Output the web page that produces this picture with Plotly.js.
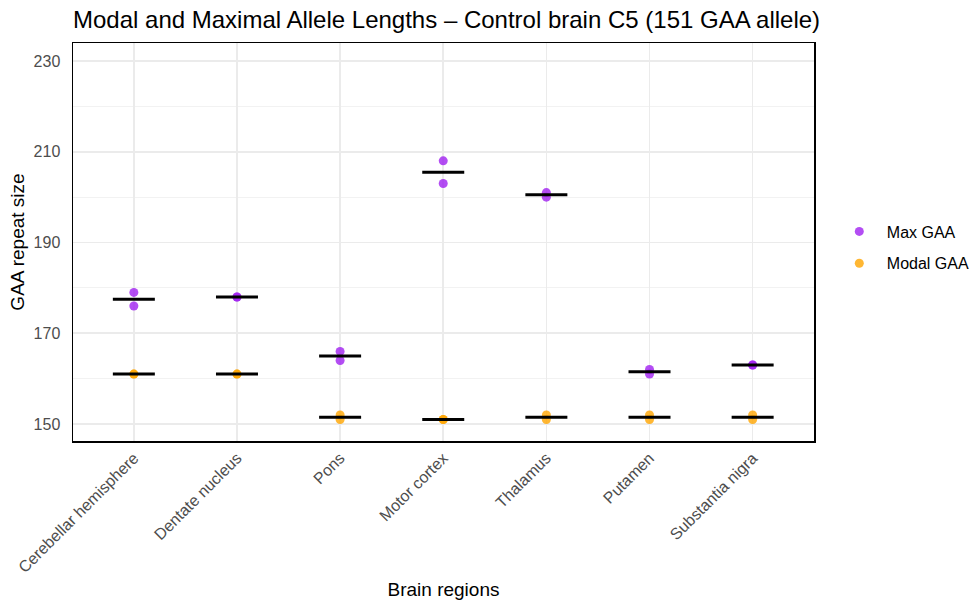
<!DOCTYPE html>
<html>
<head>
<meta charset="utf-8">
<script src="https://cdn.plot.ly/plotly-3.0.1.min.js"></script>
<style>html,body{margin:0;padding:0;background:#fff;}#chart{width:974px;height:603px;}</style>
</head>
<body>
<div id="chart"></div>
<script>
// Brain regions (x categories)
const regions = ["Cerebellar hemisphere", "Dentate nucleus", "Pons", "Motor cortex", "Thalamus", "Putamen", "Substantia nigra"];
// Max GAA repeat size, two replicate measurements per region
const maxRep1 = [179, 178, 166, 208, 201, 162, 163];
const maxRep2 = [176, 178, 164, 203, 200, 161, 163];
// Modal GAA repeat size, two replicate measurements per region
const modalRep1 = [161, 161, 152, 151, 152, 152, 152];
const modalRep2 = [161, 161, 151, 151, 151, 151, 151];
// Axis ticks
const yTicks = [150, 170, 190, 210, 230];

const purple = "rgba(160,32,240,0.8)";
const orange = "rgba(255,165,0,0.8)";
const font = "Liberation Sans, Arial, Helvetica, sans-serif";

const meanOf = (a, b) => a.map((v, i) => (v + b[i]) / 2);

const traces = [
  {
    type: "scatter", mode: "markers", name: "Max GAA", legendgroup: "max",
    x: regions.concat(regions), y: maxRep1.concat(maxRep2),
    marker: {color: purple, size: 9}
  },
  {
    type: "scatter", mode: "markers", name: "Modal GAA", legendgroup: "modal",
    x: regions.concat(regions), y: modalRep1.concat(modalRep2),
    marker: {color: orange, size: 9}
  },
  {
    type: "scatter", mode: "markers", showlegend: false, hoverinfo: "skip",
    x: regions, y: meanOf(maxRep1, maxRep2),
    marker: {symbol: "line-ew", size: 30, color: "black", line: {color: "black", width: 3}}
  },
  {
    type: "scatter", mode: "markers", showlegend: false, hoverinfo: "skip",
    x: regions, y: meanOf(modalRep1, modalRep2),
    marker: {symbol: "line-ew", size: 30, color: "black", line: {color: "black", width: 3}}
  }
];

const layout = {
  width: 974, height: 603,
  margin: {l: 73, r: 160, t: 43, b: 162, pad: 0},
  paper_bgcolor: "#ffffff", plot_bgcolor: "#ffffff",
  font: {family: font, color: "#000000"},
  title: {
    text: "Modal and Maximal Allele Lengths – Control brain C5 (151 GAA allele)",
    font: {size: 24, color: "#000000", family: font},
    xref: "paper", x: 0, xanchor: "left",
    yref: "container", y: 1 - 20 / 603, yanchor: "middle"
  },
  xaxis: {
    type: "category", categoryorder: "array", categoryarray: regions,
    range: [-0.59, 6.595],
    showgrid: true, gridcolor: "#EBEBEB", gridwidth: 1.6,
    showline: true, mirror: true, linecolor: "#000000", linewidth: 1.5,
    ticks: "", tickangle: -45,
    tickfont: {size: 16, color: "#4D4D4D", family: font},
    title: {text: "Brain regions", font: {size: 19, color: "#000000", family: font}, standoff: 8},
    zeroline: false, automargin: false
  },
  yaxis: {
    range: [146.25, 233.97],
    tickvals: yTicks, ticktext: yTicks.map(String),
    showgrid: true, gridcolor: "#EBEBEB", gridwidth: 1.6,
    minor: {dtick: 10, tick0: 150, showgrid: true, gridcolor: "#F2F2F2", gridwidth: 1},
    showline: true, mirror: true, linecolor: "#000000", linewidth: 1.5,
    ticks: "", ticklabelstandoff: 8,
    tickfont: {size: 16, color: "#4D4D4D", family: font},
    title: {text: "GAA repeat size", font: {size: 19, color: "#000000", family: font}, standoff: 4},
    zeroline: false, automargin: false
  },
  legend: {
    xref: "container", yref: "container",
    x: 831.8 / 974, xanchor: "left", y: 1 - 247.5 / 603, yanchor: "middle",
    font: {size: 16, color: "#000000", family: font},
    bgcolor: "rgba(0,0,0,0)", borderwidth: 0,
    itemwidth: 45,
    tracegroupgap: 8
  },
  showlegend: true
};

Plotly.newPlot("chart", traces, layout, {displayModeBar: false, staticPlot: true});
</script>
</body>
</html>
